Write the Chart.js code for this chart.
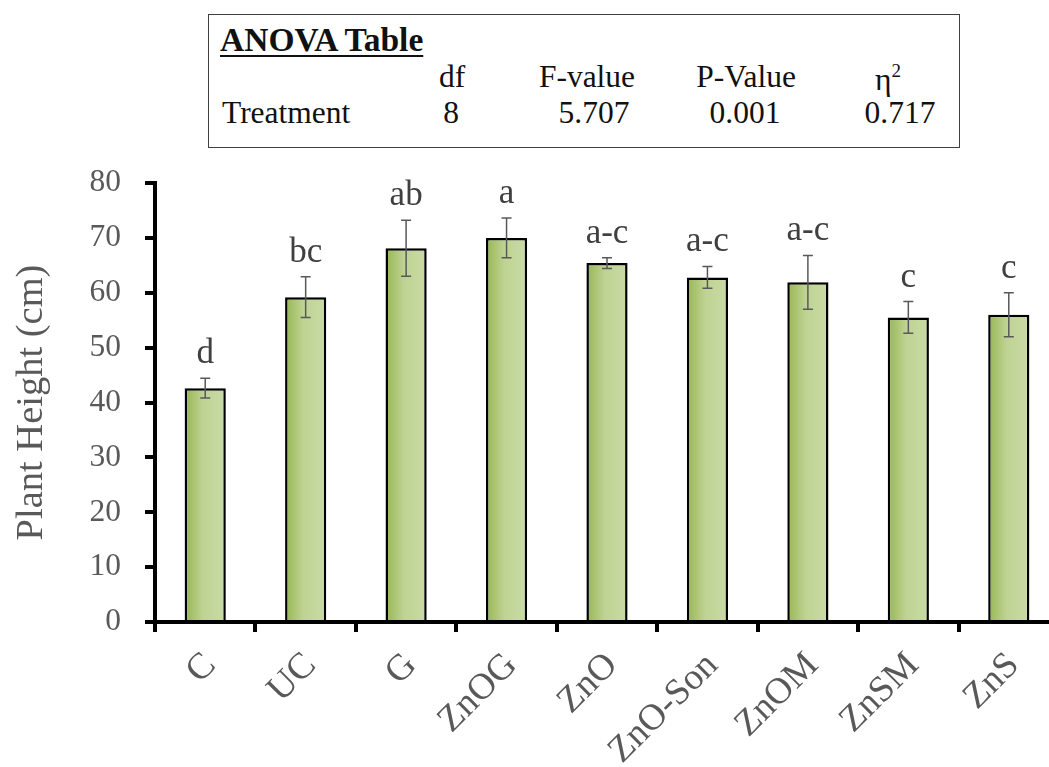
<!DOCTYPE html>
<html>
<head>
<meta charset="utf-8">
<script src="https://cdn.jsdelivr.net/npm/chart.js@4/dist/chart.umd.min.js"></script>
<style>
  html, body { margin: 0; padding: 0; background: #fff; overflow: hidden; width: 1049px; height: 767px; }
  #wrap { position: absolute; left: 0; top: 0; width: 1075px; height: 767px; }
  .anova {
    position: absolute; left: 208px; top: 14px; width: 752px; height: 134px;
    border: 1.5px solid #404040; box-sizing: border-box; background: #fff;
    font-family: "Liberation Serif", "Times New Roman", serif; font-size: 31.5px; color: #111;
  }
  .anova span { position: absolute; white-space: nowrap; line-height: 1; }
  .anova .c { transform: translateX(-50%); }
  .anova .ttl { font-size: 33.5px; font-weight: bold; text-decoration: underline; text-decoration-thickness: 2px; text-underline-offset: 4px; }
  .anova .sup { position: static; font-size: 19px; vertical-align: 13px; }
</style>
</head>
<body>
<div id="wrap"><canvas id="chart" width="1075" height="767"></canvas></div>
<div class="anova">
  <span class="ttl" style="left:11px; top:8px;">ANOVA Table</span>
  <span class="c" style="left:243px; top:46px;">df</span>
  <span class="c" style="left:378px; top:46px;">F-value</span>
  <span class="c" style="left:537px; top:46px;">P-Value</span>
  <span class="c" style="left:679px; top:46px;">η<span class="sup">2</span></span>
  <span style="left:13px; top:82px;">Treatment</span>
  <span class="c" style="left:242px; top:82px;">8</span>
  <span class="c" style="left:385px; top:82px;">5.707</span>
  <span class="c" style="left:536px; top:82px;">0.001</span>
  <span class="c" style="left:691px; top:82px;">0.717</span>
</div>
<script>
// Treatments and mean plant height (cm) with standard errors
const categories = ['C', 'UC', 'G', 'ZnOG', 'ZnO', 'ZnO-Son', 'ZnOM', 'ZnSM', 'ZnS'];
const meanHeight = [42.6, 59.2, 68.1, 70.0, 65.4, 62.8, 61.9, 55.5, 56.0];
const stdError   = [1.8, 3.7, 5.1, 3.6, 1.0, 2.0, 4.9, 2.9, 4.0];
const groupLetters = ['d', 'bc', 'ab', 'a', 'a-c', 'a-c', 'a-c', 'c', 'c'];
const yRange = [0, 80];
const yStep = 10;

const SERIF = '"Liberation Serif", "Times New Roman", serif';
const BAR_FRACTION = 0.41;

// Left-to-right green gradient for each bar
function barFill(ctx) {
  const chart = ctx.chart;
  const xs = chart.scales && chart.scales.x;
  if (!xs || ctx.type !== 'data') return '#b7cd87';
  const cx = xs.getPixelForValue(ctx.dataIndex);
  const half = (xs.width / categories.length) * BAR_FRACTION / 2;
  if (!isFinite(cx) || !isFinite(half) || half <= 0) return '#b7cd87';
  const g = chart.ctx.createLinearGradient(cx - half, 0, cx + half, 0);
  g.addColorStop(0, '#97b653');
  g.addColorStop(0.45, '#bfd394');
  g.addColorStop(1, '#c9dba5');
  return g;
}

// Error bars and significance letters above each bar
const errorBars = {
  id: 'errorBars',
  afterDatasetsDraw(chart) {
    const { ctx, scales: { x, y } } = chart;
    ctx.save();
    meanHeight.forEach((m, i) => {
      const px = x.getPixelForValue(i);
      const top = y.getPixelForValue(m + stdError[i]);
      const bot = y.getPixelForValue(m - stdError[i]);
      ctx.strokeStyle = '#595959';
      ctx.lineWidth = 1.5;
      ctx.beginPath();
      ctx.moveTo(px, top); ctx.lineTo(px, bot);
      ctx.moveTo(px - 5, top); ctx.lineTo(px + 5, top);
      ctx.moveTo(px - 5, bot); ctx.lineTo(px + 5, bot);
      ctx.stroke();
      ctx.fillStyle = '#404040';
      ctx.font = '35px ' + SERIF;
      ctx.textAlign = 'center';
      ctx.textBaseline = 'alphabetic';
      ctx.fillText(groupLetters[i], px, top - 15);
    });
    ctx.restore();
  }
};

new Chart(document.getElementById('chart'), {
  type: 'bar',
  data: {
    labels: categories,
    datasets: [{
      data: meanHeight,
      backgroundColor: barFill,
      borderColor: '#000',
      borderWidth: 2.5,
      borderSkipped: 'bottom',
      barPercentage: BAR_FRACTION,
      categoryPercentage: 1.0
    }]
  },
  options: {
    responsive: false,
    animation: false,
    devicePixelRatio: 1,
    layout: { padding: { top: 183, right: 16, left: 0, bottom: 0 } },
    plugins: { legend: { display: false }, tooltip: { enabled: false } },
    scales: {
      x: {
        afterFit(scale) { scale.height = 145; },
        grid: { drawOnChartArea: false, tickLength: 10, lineWidth: 4, color: '#000' },
        border: { display: true, color: '#000', width: 4 },
        ticks: {
          autoSkip: false, minRotation: 45, maxRotation: 45, padding: 12, labelOffset: 5,
          color: '#595959', font: { family: SERIF, size: 37 }
        }
      },
      y: {
        min: yRange[0], max: yRange[1],
        afterFit(scale) { scale.width = 155; },
        grid: { drawOnChartArea: false, tickLength: 10, lineWidth: 4, color: '#000' },
        border: { display: true, color: '#000', width: 4 },
        ticks: { stepSize: yStep, padding: 24, color: '#595959', font: { family: SERIF, size: 31.5 } },
        title: {
          display: true, text: 'Plant Height (cm)', color: '#595959',
          font: { family: SERIF, size: 38.5, lineHeight: 1.2 },
          padding: { top: 9, bottom: 0 }
        }
      }
    }
  },
  plugins: [errorBars]
});
</script>
</body>
</html>
